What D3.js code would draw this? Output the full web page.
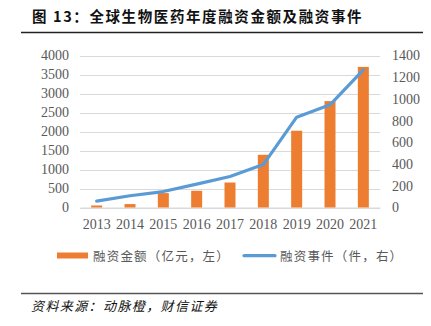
<!DOCTYPE html>
<html><head><meta charset="utf-8">
<script src="https://cdn.jsdelivr.net/npm/d3@7/dist/d3.min.js"></script>
<style>
html,body{margin:0;padding:0;background:#fff;}
svg{display:block;}
</style></head>
<body>
<svg id="c" width="431" height="326"></svg>
<script>
const years = ["2013","2014","2015","2016","2017","2018","2019","2020","2021"];
const amount = [53, 90, 379, 440, 658, 1387, 2020, 2800, 3700];
const events = [59, 108, 147, 215, 285, 395, 832, 946, 1268];
const leftTicks = [0,500,1000,1500,2000,2500,3000,3500,4000];
const rightTicks = [0,200,400,600,800,1000,1200,1400];
const title = "图 13：全球生物医药年度融资金额及融资事件";
const legendLabels = ["融资金额（亿元，左）","融资事件（件，右）"];
const source = "资料来源：动脉橙，财信证券";

const svg = d3.select("#c");
const serif = "'Liberation Serif','DejaVu Serif',serif";
const cjk = "'Noto Sans CJK SC',sans-serif";

// title
svg.append("text").attr("x",32).attr("y",22)
  .attr("font-family",cjk).attr("font-weight","bold").attr("font-size",14.5)
  .attr("letter-spacing",1.6).attr("fill","#111").text(title);
svg.append("line").attr("x1",21).attr("x2",423).attr("y1",32.5).attr("y2",32.5)
  .attr("stroke","#222").attr("stroke-width",1.3);

const x = d3.scaleBand().domain(years).range([80,380]).paddingInner(0.67).paddingOuter(0.335);
const xc = d3.scalePoint().domain(years).range([80+300/18, 380-300/18]);
const yL = d3.scaleLinear().domain([0,4000]).range([207.5,55.5]);
const yR = d3.scaleLinear().domain([0,1400]).range([207.5,55.5]);

// gridlines
svg.append("g").selectAll("line").data(leftTicks).join("line")
  .attr("x1",80).attr("x2",380)
  .attr("y1",d=>Math.round(yL(d))+0.5).attr("y2",d=>Math.round(yL(d))+0.5)
  .attr("stroke","#d9d9d9").attr("stroke-width",1);

// left axis
const gl = svg.append("g").attr("transform","translate(80,0)")
  .call(d3.axisLeft(yL).tickValues(leftTicks).tickSize(0).tickPadding(11).tickFormat(d3.format("d")));
gl.select(".domain").remove();
gl.selectAll("text").attr("font-family",serif).attr("font-size",14).attr("fill","#595959");

// right axis
const gr = svg.append("g").attr("transform","translate(380,0)")
  .call(d3.axisRight(yR).tickValues(rightTicks).tickSize(0).tickPadding(12).tickFormat(d3.format("d")));
gr.select(".domain").remove();
gr.selectAll("text").attr("font-family",serif).attr("font-size",14).attr("fill","#595959");

// bottom axis
const gb = svg.append("g").attr("transform","translate(0,207.5)")
  .call(d3.axisBottom(x).tickSize(0).tickPadding(12));
gb.select(".domain").attr("stroke","#d9d9d9");
gb.selectAll("text").attr("font-family",serif).attr("font-size",14).attr("fill","#595959");

// bars
svg.append("g").selectAll("rect").data(years).join("rect")
  .attr("x",d=>x(d)).attr("width",x.bandwidth())
  .attr("y",(d,i)=>yL(amount[i])).attr("height",(d,i)=>yL(0)-yL(amount[i]))
  .attr("fill","#ed7d31");

// line
svg.append("path").datum(events)
  .attr("d", d3.line().x((d,i)=>xc(years[i])).y(d=>yR(d)))
  .attr("fill","none").attr("stroke","#5b9bd5").attr("stroke-width",3.2)
  .attr("stroke-linejoin","round").attr("stroke-linecap","round");

// legend
const lg = svg.append("g");
lg.append("rect").attr("x",57).attr("y",252.5).attr("width",31).attr("height",6).attr("fill","#ed7d31");
lg.append("text").attr("x",93).attr("y",260.5).attr("font-family",cjk).attr("font-size",12.5)
  .attr("letter-spacing",1.2).attr("fill","#595959").text(legendLabels[0]);
lg.append("line").attr("x1",244).attr("x2",275).attr("y1",255.7).attr("y2",255.7)
  .attr("stroke","#5b9bd5").attr("stroke-width",3.2).attr("stroke-linecap","round");
lg.append("text").attr("x",280).attr("y",260.5).attr("font-family",cjk).attr("font-size",12.5)
  .attr("letter-spacing",1.2).attr("fill","#595959").text(legendLabels[1]);

// source
svg.append("line").attr("x1",21).attr("x2",423).attr("y1",293.5).attr("y2",293.5)
  .attr("stroke","#555").attr("stroke-width",1.5);
svg.append("text").attr("x",31).attr("y",311).attr("font-family",cjk).attr("font-size",13)
  .attr("font-style","italic").attr("letter-spacing",1.4).attr("fill","#111")
  .attr("transform","").text(source);
</script>
</body></html>
